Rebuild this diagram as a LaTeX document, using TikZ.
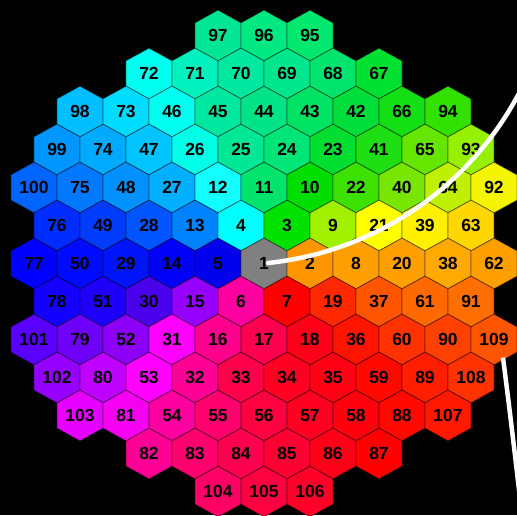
\documentclass[tikz,border=0pt]{standalone}
\usepackage{fontspec}
\setmainfont{Liberation Sans}

\begin{document}
\begin{tikzpicture}[
  x=23pt, y=38pt,
  cell/.style={draw=black, draw opacity=0.45, line width=0.8pt},
  lbl/.style={font=\bfseries\fontsize{17.5}{17.5}\selectfont, text=black, inner sep=0pt},
  trail/.style={draw=white, line width=4.5pt},
]
\fill[black] (-264pt,-251.5pt) rectangle (253pt,263.5pt);
\clip (-264pt,-251.5pt) rectangle (253pt,263.5pt);

\foreach \n/\c/\r/\R/\G/\B in {
  97/-2/6/0/230/150, 96/0/6/0/232/130, 95/2/6/0/232/110,
  72/-5/5/0/255/240, 71/-3/5/0/240/190, 70/-1/5/0/232/160, 69/1/5/0/230/140, 68/3/5/0/228/110, 67/5/5/0/225/50,
  98/-8/4/0/190/255, 73/-6/4/0/220/255, 46/-4/4/0/255/240, 45/-2/4/0/232/160, 44/0/4/0/228/135, 43/2/4/0/226/100, 42/4/4/0/222/60, 66/6/4/20/222/20, 94/8/4/50/225/0,
  99/-9/3/0/150/255, 74/-7/3/0/170/255, 47/-5/3/0/195/255, 26/-3/3/0/255/230, 25/-1/3/0/232/150, 24/1/3/0/228/120, 23/3/3/0/222/50, 41/5/3/30/222/20, 65/7/3/100/230/0, 93/9/3/150/240/0,
  100/-10/2/0/100/255, 75/-8/2/0/120/255, 48/-6/2/0/145/255, 27/-4/2/0/175/255, 12/-2/2/20/255/255, 11/0/2/0/228/110, 10/2/2/0/222/0, 22/4/2/60/225/0, 40/6/2/120/230/0, 64/8/2/190/240/0, 92/10/2/245/245/0,
  76/-9/1/0/45/255, 49/-7/1/0/60/250, 28/-5/1/0/85/255, 13/-3/1/0/130/255, 4/-1/1/0/255/255, 3/1/1/0/225/0, 9/3/1/160/240/0, 21/5/1/255/255/0, 39/7/1/255/240/0, 63/9/1/255/215/0,
  77/-10/0/0/0/255, 50/-8/0/0/10/255, 29/-6/0/0/20/250, 14/-4/0/0/0/250, 5/-2/0/0/0/235, 1/0/0/128/128/128, 2/2/0/255/150/0, 8/4/0/255/160/0, 20/6/0/255/160/0, 38/8/0/255/170/0, 62/10/0/255/160/0,
  78/-9/-1/20/0/255, 51/-7/-1/30/0/250, 30/-5/-1/75/0/235, 15/-3/-1/150/0/255, 6/-1/-1/255/0/160, 7/1/-1/255/0/0, 19/3/-1/255/40/0, 37/5/-1/255/85/0, 61/7/-1/255/105/0, 91/9/-1/255/110/0,
  101/-10/-2/90/0/255, 79/-8/-2/110/0/250, 52/-6/-2/140/0/250, 31/-4/-2/255/0/255, 16/-2/-2/255/0/140, 17/0/-2/255/0/80, 18/2/-2/255/0/25, 36/4/-2/255/20/0, 60/6/-2/255/50/0, 90/8/-2/255/65/0, 109/10/-2/255/85/0,
  102/-9/-3/150/0/255, 80/-7/-3/190/0/255, 53/-5/-3/255/0/255, 32/-3/-3/255/0/150, 33/-1/-3/255/0/75, 34/1/-3/255/0/35, 35/3/-3/255/0/20, 59/5/-3/255/10/0, 89/7/-3/255/30/0, 108/9/-3/255/50/0,
  103/-8/-4/230/0/255, 81/-6/-4/245/0/240, 54/-4/-4/255/0/160, 55/-2/-4/255/0/110, 56/0/-4/255/0/65, 57/2/-4/255/0/35, 58/4/-4/255/0/15, 88/6/-4/255/10/0, 107/8/-4/255/25/0,
  82/-5/-5/255/0/150, 83/-3/-5/255/0/110, 84/-1/-5/255/0/80, 85/1/-5/255/0/50, 86/3/-5/255/0/25, 87/5/-5/255/0/0,
  104/-2/-6/255/0/100, 105/0/-6/255/0/65, 106/2/-6/255/0/40}
{
  \definecolor{hexfill}{RGB}{\R,\G,\B}
  \filldraw[cell, fill=hexfill] (\c,\r) +(0,0.667) -- +(1,0.333) -- +(1,-0.333) -- +(0,-0.667) -- +(-1,-0.333) -- +(-1,0.333) -- cycle;
  \node[lbl] (h\n) at (\c,\r) {\n};
}

\draw[trail, line cap=round] ([xshift=4pt, yshift=0.5pt]h1.center) arc[start angle=-84, end angle=-25, radius=322pt];
\draw[trail] ([xshift=9pt, yshift=-18pt]h109.center) .. controls ++(4pt,-31.5pt) and (248pt,-165pt) .. (256pt,-235pt);
\end{tikzpicture}
\end{document}
